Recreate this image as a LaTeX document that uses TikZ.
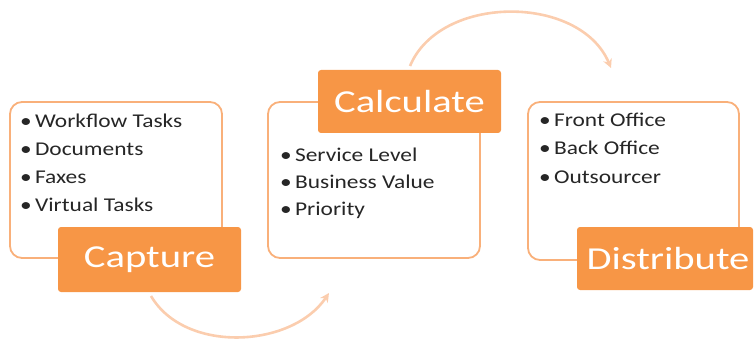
\documentclass[tikz,border=0pt]{standalone}
\usepackage{fontspec}
\usetikzlibrary{arrows.meta}
\newfontfamily\itemfont[FakeStretch=1.2]{Carlito}
\newfontfamily\labfont[FakeStretch=1.27]{Carlito}
\definecolor{orangefill}{HTML}{F79646}
\definecolor{boxline}{HTML}{F9B07A}
\definecolor{arcline}{HTML}{FBCDAE}
\definecolor{itemtext}{HTML}{262626}
\tikzset{
  x=1pt, y=-1pt,
  itembox/.style={draw=boxline, line width=1.8pt, rounded corners=12pt, fill=white},
  labelbox/.style={fill=orangefill, rounded corners=3pt, text=white, inner sep=0pt,
    font=\labfont\fontsize{32}{36}\selectfont},
  item/.style={anchor=west, inner sep=0pt, text=itemtext, font=\itemfont\fontsize{19.5}{22}\selectfont},
  cyclearc/.style={draw=arcline, line width=2.6pt, -{Stealth[length=9pt,width=9pt]}}
}
\begin{document}
\begin{tikzpicture}
\useasboundingbox (0,0) rectangle (754,339);
% boxes
\draw[itembox] (10,102) rectangle (222,258);
\draw[itembox] (268,102) rectangle (480,258);
\draw[itembox] (528,102) rectangle (739,260);
% arcs
\coordinate (a1) at (151,296);
\coordinate (a2) at (329,293);
\coordinate (b1) at (410,66);
\coordinate (b2) at (611,68);
\draw[cyclearc] (a1) .. controls (185,354) and (292,348) .. (a2);
\draw[cyclearc] (b1) .. controls (440,-6) and (580,-6) .. (b2);
% labels
\path[labelbox] (58,227) rectangle (241,292);
\node[text=white, inner sep=0pt, font=\labfont\fontsize{32}{36}\selectfont] (capture) at (149.5,259.5) {Capture};
\path[labelbox] (318,70) rectangle (501,133);
\node[text=white, inner sep=0pt, font=\labfont\fontsize{32}{36}\selectfont] (calculate) at (409.5,101.5) {Calculate};
\path[labelbox] (577,227) rectangle (753,290);
\node[text=white, inner sep=0pt, font=\labfont\fontsize{32}{36}\selectfont] (distribute) at (668,258.5) {Distribute};
% items
\node[item] (c1) at (20,121) {•\,Workflow Tasks};
\node[item] (c2) at (20,149) {•\,Documents};
\node[item] (c3) at (20,177) {•\,Faxes};
\node[item] (c4) at (20,205) {•\,Virtual Tasks};
\node[item] (k1) at (280,155) {•\,Service Level};
\node[item] (k2) at (280,182) {•\,Business Value};
\node[item] (k3) at (280,210) {•\,Priority};
\node[item] (d1) at (539,120) {•\,Front Office};
\node[item] (d2) at (539,148) {•\,Back Office};
\node[item] (d3) at (539,177) {•\,Outsourcer};
\end{tikzpicture}
\end{document}
